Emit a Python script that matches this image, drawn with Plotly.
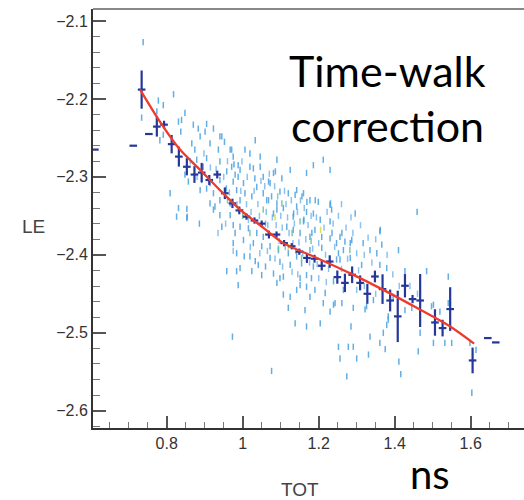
import plotly.graph_objects as go

# ---------------- data ----------------
# scattered TOT/LE entries (2D-histogram cells)
tot_hits = [0.738, 0.734, 0.774, 0.818, 0.778, 0.791, 0.831, 0.848, 0.837, 0.839, 0.870, 0.901, 0.866, 0.914, 0.888,
            0.945, 0.905, 0.936, 0.967, 0.940, 0.971, 0.988, 0.958, 0.896, 0.791, 0.782, 0.848, 0.857, 0.888, 0.892,
            0.914, 0.923, 0.809, 0.831, 0.853, 0.853, 0.940, 0.957, 0.975, 0.988, 0.940, 0.967, 0.914, 0.923, 0.940,
            0.967, 0.975, 0.945, 0.993, 0.984, 0.905, 0.879, 0.874, 0.883, 0.923, 0.940, 0.886, 0.826, 0.927, 0.971,
            1.028, 1.033, 1.006, 0.854, 0.905, 0.952,
            0.977, 0.993, 0.980, 1.019, 1.046, 1.032, 1.054, 1.081, 1.103, 1.072, 1.037, 1.002, 1.006, 1.024, 1.054,
            1.076, 1.098, 1.120, 1.142, 1.160, 1.177, 1.199, 1.230, 1.230, 1.204, 1.160, 1.133, 1.107, 1.090, 1.063,
            1.081, 1.142, 1.168, 1.186, 1.190, 1.208, 1.177, 1.151, 1.133, 1.116, 1.054, 1.037, 1.015, 0.993, 0.980,
            1.002, 1.028, 1.050, 1.072, 1.094, 1.120, 1.142, 1.072, 1.098, 1.125, 1.155, 1.177, 1.208, 1.230, 1.256,
            1.265, 1.283, 1.019, 1.041, 0.984, 0.975, 0.993, 1.081, 1.107, 1.168, 1.186, 1.247, 1.212, 1.186, 1.230,
            1.168, 1.125, 1.046, 1.090, 0.975, 1.019,
            1.068, 1.086, 1.138, 1.156, 1.169, 1.191, 1.231, 1.261, 1.235, 1.296, 1.362, 1.459, 1.182, 1.161, 1.134,
            1.068, 1.090,
            1.234, 1.361, 1.247, 1.269, 1.287, 1.317, 1.366, 1.335, 1.353, 1.410, 1.252, 1.256, 1.283, 1.313, 1.361,
            1.379, 1.427, 1.541, 1.239, 1.265, 1.243, 1.261, 1.291, 1.326, 1.344, 1.396, 1.427, 1.445, 1.497, 1.541,
            1.383, 1.484,
            0.958, 0.984, 1.024, 1.050, 0.988, 1.090, 1.107, 1.125, 1.142, 1.151, 1.168, 1.177, 1.190, 1.217, 1.212,
            1.239, 1.120, 1.164, 1.230, 1.138, 1.168, 1.204, 0.973, 1.252, 1.278, 1.256, 1.076, 1.274, 1.098, 1.151,
            1.181, 1.004, 1.033, 1.060,
            1.322, 1.383, 1.379, 1.335, 1.370, 1.361, 1.291, 1.300, 1.331, 1.375, 1.411, 1.416, 1.462, 1.467, 1.502,
            1.532, 1.550, 1.502, 1.519, 1.598, 1.614, 1.603, 1.285]
le_hits = [-2.127, -2.224, -2.216, -2.194, -2.202, -2.208, -2.229, -2.218, -2.242, -2.227, -2.233, -2.242, -2.257, -2.257, -2.248,
           -2.248, -2.276, -2.265, -2.265, -2.280, -2.287, -2.285, -2.293, -2.287, -2.246, -2.253, -2.297, -2.306, -2.317, -2.304,
           -2.308, -2.321, -2.321, -2.340, -2.341, -2.353, -2.304, -2.315, -2.306, -2.300, -2.330, -2.334, -2.334, -2.342, -2.349,
           -2.349, -2.362, -2.364, -2.330, -2.317, -2.315, -2.278, -2.265, -2.238, -2.238, -2.248, -2.360, -2.351, -2.338, -2.265,
           -2.289, -2.253, -2.265, -2.351, -2.232, -2.255,
           -2.284, -2.291, -2.297, -2.287, -2.287, -2.302, -2.300, -2.295, -2.302, -2.308, -2.313, -2.308, -2.321, -2.325, -2.321,
           -2.325, -2.319, -2.321, -2.317, -2.321, -2.330, -2.332, -2.336, -2.357, -2.355, -2.357, -2.351, -2.340, -2.334, -2.330,
           -2.347, -2.338, -2.345, -2.347, -2.368, -2.377, -2.377, -2.372, -2.368, -2.364, -2.377, -2.372, -2.366, -2.364, -2.372,
           -2.381, -2.385, -2.389, -2.389, -2.394, -2.398, -2.402, -2.404, -2.409, -2.413, -2.411, -2.394, -2.391, -2.379, -2.377,
           -2.394, -2.385, -2.402, -2.413, -2.398, -2.385, -2.417, -2.424, -2.428, -2.426, -2.415, -2.406, -2.278, -2.285, -2.291,
           -2.295, -2.291, -2.274, -2.278, -2.274, -2.270,
           -2.306, -2.293, -2.323, -2.325, -2.332, -2.330, -2.334, -2.372, -2.372, -2.347, -2.368, -2.345, -2.372, -2.355, -2.347,
           -2.330, -2.342,
           -2.342, -2.370, -2.385, -2.383, -2.381, -2.385, -2.387, -2.394, -2.398, -2.394, -2.398, -2.406, -2.404, -2.413, -2.413,
           -2.417, -2.421, -2.428, -2.434, -2.445, -2.462, -2.462, -2.468, -2.466, -2.458, -2.454, -2.471, -2.468, -2.466, -2.462,
           -2.479, -2.421,
           -2.421, -2.421, -2.421, -2.426, -2.439, -2.436, -2.451, -2.454, -2.445, -2.439, -2.441, -2.454, -2.445, -2.449, -2.462,
           -2.464, -2.468, -2.471, -2.473, -2.488, -2.492, -2.488, -2.505, -2.518, -2.518, -2.533, -2.549, -2.556, -2.430, -2.430,
           -2.430, -2.402, -2.408, -2.415,
           -2.470, -2.483, -2.490, -2.505, -2.500, -2.513, -2.518, -2.533, -2.528, -2.521, -2.537, -2.553, -2.524, -2.500, -2.513,
           -2.513, -2.513, -2.464, -2.473, -2.513, -2.522, -2.577, -2.492]

# lighter cells in the dense core of the band
tot_core = [0.995, 1.010, 1.012, 1.022, 1.030, 1.040, 1.044, 1.048, 1.058, 1.062, 1.066, 1.070, 1.078, 1.084, 1.088,
            1.092, 1.096, 1.100, 1.104, 1.110, 1.112, 1.114, 1.118, 1.122, 1.128, 1.132, 1.136, 1.140, 1.144, 1.148,
            1.152, 1.158, 1.162, 1.166, 1.172, 1.176, 1.180, 1.184, 1.194, 1.196, 1.200, 1.214, 1.218, 1.222, 1.226,
            1.238, 1.242, 1.252, 1.260, 1.272, 1.276, 1.290, 1.300, 1.305, 1.320, 1.340, 1.350, 1.020, 1.045, 1.065,
            1.085, 1.105, 1.130, 1.145, 1.000, 0.985, 0.965, 0.950, 0.930, 0.960, 0.998, 1.015, 0.975, 0.955, 0.935,
            0.915, 0.898, 0.880, 0.862, 1.260, 1.285, 1.310, 1.330, 1.380, 1.395, 1.412, 1.440, 1.460, 1.300, 1.320,
            1.350, 1.200, 1.220]
le_core = [-2.318, -2.335, -2.300, -2.345, -2.318, -2.335, -2.350, -2.305, -2.312, -2.345, -2.362, -2.296, -2.352, -2.312, -2.362,
           -2.325, -2.382, -2.350, -2.365, -2.318, -2.390, -2.335, -2.352, -2.372, -2.330, -2.385, -2.360, -2.395, -2.345, -2.384,
           -2.330, -2.398, -2.340, -2.380, -2.362, -2.410, -2.350, -2.392, -2.352, -2.412, -2.385, -2.365, -2.400, -2.345, -2.418,
           -2.360, -2.390, -2.350, -2.418, -2.365, -2.405, -2.372, -2.398, -2.420, -2.400, -2.410, -2.380, -2.390, -2.398, -2.395,
           -2.405, -2.415, -2.422, -2.425, -2.345, -2.335, -2.320, -2.300, -2.290, -2.280, -2.280, -2.355, -2.395, -2.360, -2.372,
           -2.288, -2.270, -2.300, -2.280, -2.335, -2.352, -2.362, -2.378, -2.400, -2.425, -2.440, -2.440, -2.450, -2.445, -2.440,
           -2.450, -2.430, -2.435]

# cells with higher content (greenish / yellowish)
tot_dense = [1.054, 1.103, 1.151, 1.155, 1.019, 1.094, 1.282, 1.000, 0.960, 1.180, 1.060, 1.130]
le_dense = [-2.342, -2.334, -2.357, -2.404, -2.372, -2.392, -2.394, -2.350, -2.330, -2.382, -2.360, -2.372]
tot_peak = [1.120, 1.205, 1.085]
le_peak = [-2.390, -2.368, -2.352]

# profile (mean LE per TOT bin)
prof_tot = [0.611, 0.712, 0.734, 0.753, 0.774, 0.793, 0.813, 0.832, 0.853, 0.873, 0.892, 0.912, 0.933, 0.953,
            0.973, 0.991, 1.010, 1.031, 1.050, 1.069, 1.089, 1.109, 1.129, 1.149, 1.169, 1.189, 1.208, 1.229,
            1.249, 1.269, 1.288, 1.309, 1.328, 1.348, 1.368, 1.388, 1.408, 1.427, 1.447, 1.467, 1.506, 1.526,
            1.546, 1.605, 1.645, 1.666]
prof_le = [-2.265, -2.260, -2.188, -2.245, -2.2355, -2.233, -2.258, -2.274, -2.287, -2.297, -2.2945, -2.304, -2.297,
           -2.321, -2.334, -2.343, -2.351, -2.356, -2.360, -2.374, -2.374, -2.385, -2.389, -2.396, -2.404, -2.405,
           -2.414, -2.4086, -2.4286, -2.436, -2.4256, -2.436, -2.450, -2.4278, -2.444, -2.4586, -2.479, -2.4397,
           -2.4568, -2.4586, -2.4868, -2.494, -2.4696, -2.5355, -2.5068, -2.5124]
prof_err = [0, 0, 0.0245, 0, 0.0128, 0.005, 0.0118, 0.0128, 0.011, 0.0107, 0.0124, 0.0064, 0.005, 0.0075,
            0.006, 0.005, 0.004, 0.004, 0.004, 0.005, 0.004, 0.004, 0.004, 0.004, 0.0064, 0.005, 0.006, 0.008,
            0.0085, 0.0118, 0.0107, 0.0096, 0.0128, 0.0075, 0.019, 0.014, 0.033, 0.015, 0.0053, 0.034, 0.017,
            0.0107, 0.028, 0.0165, 0, 0]
bin_half_width = 0.01

# fitted time-walk curve
fit_tot = [0.730, 0.782, 0.835, 0.888, 0.940, 0.993, 1.051, 1.107, 1.195, 1.282, 1.370, 1.458, 1.546, 1.609]
fit_le = [-2.188, -2.229, -2.265, -2.291, -2.317, -2.342, -2.364, -2.385, -2.404, -2.4235, -2.445, -2.468, -2.492, -2.514]

x_ticks = [0.8, 1.0, 1.2, 1.4, 1.6]
x_labels = ["0.8", "1", "1.2", "1.4", "1.6"]
y_ticks = [-2.6, -2.5, -2.4, -2.3, -2.2, -2.1]

# ---------------- figure ----------------
W, H = 524, 500
ML, MT, MB = 93, 9, 72
fig = go.Figure()

def dash_trace(xs, ys, color):
    return go.Scatter(x=xs, y=ys, mode="markers", hoverinfo="skip", showlegend=False,
                      marker=dict(symbol="line-ns", size=4.5, color=color,
                                  line=dict(width=1.5, color=color)))

fig.add_trace(dash_trace(tot_core, le_core, "rgba(120,185,235,0.85)"))
fig.add_trace(dash_trace(tot_hits, le_hits, "rgba(70,160,225,0.85)"))
fig.add_trace(dash_trace(tot_dense, le_dense, "rgba(110,195,160,0.9)"))
fig.add_trace(dash_trace(tot_peak, le_peak, "rgba(215,220,90,0.95)"))

fig.add_trace(go.Scatter(
    x=prof_tot, y=prof_le, mode="markers", showlegend=False, hoverinfo="skip",
    marker=dict(size=1, color="rgba(0,0,0,0)"),
    error_y=dict(type="data", array=prof_err, visible=True, width=0, thickness=2.2, color="#26379a"),
    error_x=dict(type="constant", value=bin_half_width, visible=True, width=0, thickness=2.2, color="#26379a"),
))

fig.add_trace(go.Scatter(x=fit_tot, y=fit_le, mode="lines", showlegend=False, hoverinfo="skip",
                         line=dict(color="#ee3b2b", width=2.3, shape="spline", smoothing=0.8)))

fig.update_layout(
    width=W, height=H, margin=dict(l=ML, r=0, t=MT, b=MB),
    paper_bgcolor="white", plot_bgcolor="white",
    font=dict(family="Liberation Sans, Arial, sans-serif", color="#333333", size=16),
)
fig.update_xaxes(range=[0.606, 1.7403], tickvals=x_ticks, ticktext=x_labels,
                 ticks="inside", ticklen=12, tickwidth=1.5, tickcolor="#555555",
                 minor=dict(dtick=0.05, tick0=0.6, ticks="inside", ticklen=6, tickwidth=1.2, tickcolor="#777777"),
                 showline=True, linecolor="#333333", linewidth=2, showgrid=False, zeroline=False,
                 tickfont=dict(size=16))
fig.update_yaxes(range=[-2.6222, -2.0846], tickvals=y_ticks,
                 ticks="inside", ticklen=13, tickwidth=1.5, tickcolor="#555555",
                 minor=dict(dtick=0.02, tick0=-2.6, ticks="inside", ticklen=7, tickwidth=1.2, tickcolor="#777777"),
                 showline=True, linecolor="#333333", linewidth=2, showgrid=False, zeroline=False,
                 tickfont=dict(size=16))

# top frame line
fig.add_shape(type="line", xref="paper", yref="paper", x0=0, x1=1, y0=1, y1=1,
              line=dict(color="#888888", width=2))

big = dict(family="Lato, Open Sans, sans-serif", size=43, color="black")
fig.add_annotation(text="Time-walk", xref="paper", yref="paper", x=0.683, y=0.854,
                   showarrow=False, font=big, xanchor="center", yanchor="middle")
fig.add_annotation(text="correction", xref="paper", yref="paper", x=0.683, y=0.721,
                   showarrow=False, font=big, xanchor="center", yanchor="middle")
fig.add_annotation(text="ns", xref="paper", yref="paper", x=0.781, y=-0.1695,
                   showarrow=False, font=dict(family="Lato, Open Sans, sans-serif", size=40, color="black"),
                   xanchor="center", yanchor="bottom", borderpad=0)
fig.add_annotation(text="TOT", xref="paper", yref="paper", x=0.480, y=-0.1456,
                   showarrow=False, font=dict(size=19, color="#444444"), xanchor="center", yanchor="middle")
fig.add_annotation(text="LE", xref="paper", yref="paper", x=-0.137, y=0.48,
                   showarrow=False, font=dict(size=19, color="#444444"), xanchor="center", yanchor="middle")

fig.write_html("out.html")
